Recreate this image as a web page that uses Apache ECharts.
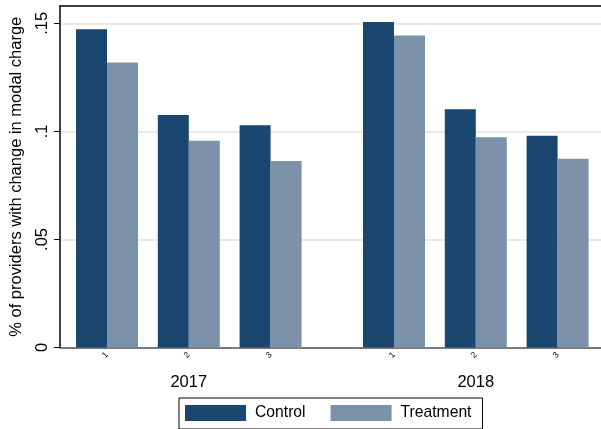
<!DOCTYPE html>
<html>
<head>
<meta charset="utf-8">
<script src="https://cdn.jsdelivr.net/npm/echarts@6/dist/echarts.min.js"></script>
<style>
  html, body { margin: 0; padding: 0; background: #fff; }
  #chart { width: 601px; height: 429px; }
</style>
</head>
<body>
<div id="chart"></div>
<script>
// Share of providers whose modal charge changed, by quarter within year
const years = ['2017', '2018'];
const subCategories = ['1', '2', '3'];
const control2017 = [0.1473, 0.1076, 0.1028];
const treatment2017 = [0.1319, 0.0956, 0.0863];
const control2018 = [0.1506, 0.1102, 0.0980];
const treatment2018 = [0.1444, 0.0973, 0.0873];
const yTickValues = [0, 0.05, 0.1, 0.15];
const yTickLabels = ['0', '.05', '.1', '.15'];

const FONT = '"Liberation Sans", Arial, Helvetica, sans-serif';
const CONTROL_COLOR = '#1a476f';
const TREATMENT_COLOR = '#7b92a8';
const Y_MAX = 0.158;

const chart = echarts.init(document.getElementById('chart'), null, { renderer: 'canvas' });

const plotTop = 6;
const plotHeight = 341.5;

function yearXAxis(gridIndex, year) {
  return {
    type: 'category',
    gridIndex: gridIndex,
    data: subCategories,
    boundaryGap: true,
    axisLine: { show: false },
    axisTick: { show: false },
    axisLabel: {
      rotate: 45, fontSize: 8.5, color: '#000', fontFamily: FONT, margin: 6
    },
    name: year,
    nameLocation: 'middle',
    nameGap: 26,
    nameTextStyle: { fontSize: 16.5, color: '#000', fontFamily: FONT }
  };
}

function hiddenYAxis(gridIndex) {
  return {
    type: 'value', gridIndex: gridIndex, min: 0, max: Y_MAX, show: false
  };
}

function barSeries(name, values, axisIndex, color) {
  return {
    name: name,
    type: 'bar',
    xAxisIndex: axisIndex,
    yAxisIndex: axisIndex,
    data: values,
    barWidth: 31,
    barGap: '0%',
    itemStyle: { color: color },
    emphasis: { disabled: true },
    animation: false
  };
}

const option = {
  backgroundColor: '#ffffff',
  animation: false,
  textStyle: { fontFamily: FONT },
  grid: [
    { left: 55, top: plotTop, width: 560, height: plotHeight },
    { left: 66.1, top: plotTop, width: 245.4, height: plotHeight },
    { left: 353.1, top: plotTop, width: 245.4, height: plotHeight }
  ],
  xAxis: [
    {
      type: 'value', gridIndex: 0, min: 0, max: 1, position: 'bottom',
      axisLine: { show: true, lineStyle: { color: '#555', width: 1.5 } },
      axisTick: { show: false }, axisLabel: { show: false }, splitLine: { show: false }
    },
    yearXAxis(1, years[0]),
    yearXAxis(2, years[1]),
    {
      type: 'value', gridIndex: 0, min: 0, max: 1, position: 'top',
      axisLine: { show: true, onZero: false, lineStyle: { color: '#000', width: 1.5 } },
      axisTick: { show: false }, axisLabel: { show: false }, splitLine: { show: false }
    }
  ],
  yAxis: [
    {
      type: 'value', gridIndex: 0, min: 0, max: Y_MAX, interval: 0.05,
      axisLine: { show: true, lineStyle: { color: '#000', width: 1.5 } },
      axisTick: {
        show: true, length: 6, customValues: yTickValues,
        lineStyle: { color: '#000', width: 1 }
      },
      axisLabel: {
        rotate: 90, fontSize: 16.5, color: '#000', fontFamily: FONT, margin: 9,
        customValues: yTickValues,
        formatter: function (v) {
          const i = yTickValues.findIndex(t => Math.abs(t - v) < 1e-9);
          return i >= 0 ? yTickLabels[i] : '';
        }
      },
      splitLine: { show: true, lineStyle: { color: '#e2e2e2', width: 1.5 } },
      name: '% of providers with change in modal charge',
      nameLocation: 'middle',
      nameRotate: 90,
      nameGap: 35,
      nameTextStyle: { fontSize: 16.5, color: '#000', fontFamily: FONT }
    },
    hiddenYAxis(1),
    hiddenYAxis(2)
  ],
  legend: {
    data: ['Control', 'Treatment'],
    left: 179, top: 398,
    orient: 'horizontal',
    icon: 'rect',
    itemWidth: 61, itemHeight: 16,
    itemGap: 25,
    padding: [7, 11, 8, 6],
    borderColor: '#000', borderWidth: 1,
    selectedMode: false,
    textStyle: { fontSize: 15.7, color: '#000', fontFamily: FONT, padding: [0, 0, 0, 4] }
  },
  series: [
    barSeries('Control', control2017, 1, CONTROL_COLOR),
    barSeries('Treatment', treatment2017, 1, TREATMENT_COLOR),
    barSeries('Control', control2018, 2, CONTROL_COLOR),
    barSeries('Treatment', treatment2018, 2, TREATMENT_COLOR)
  ]
};

chart.setOption(option);
</script>
</body>
</html>
